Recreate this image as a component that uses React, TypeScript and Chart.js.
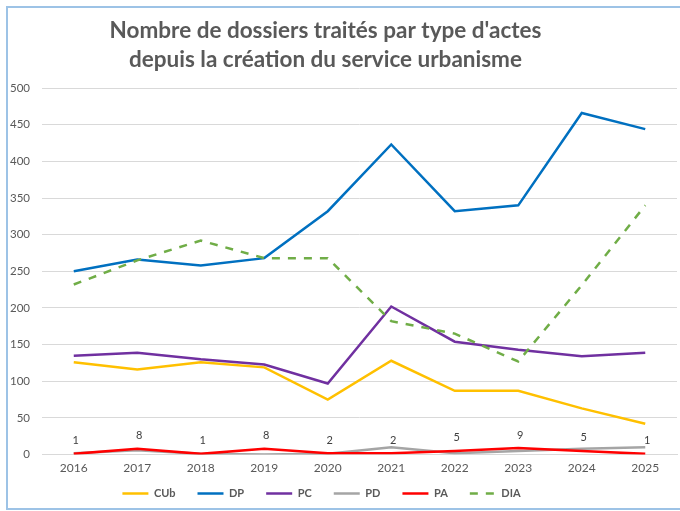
import React, { useEffect, useRef } from "react";
import { Chart, registerables } from "chart.js";

Chart.register(...registerables);

const years = ["2016", "2017", "2018", "2019", "2020", "2021", "2022", "2023", "2024", "2025"];
const cub = [126, 116, 126, 119, 75, 128, 87, 87, 63, 42];
const dp = [250, 266, 258, 268, 332, 423, 332, 340, 466, 444];
const pc = [135, 139, 130, 123, 97, 202, 154, 143, 134, 139];
const pd = [2, 6, 1, 0, 1, 10, 2, 5, 8, 10];
const pa = [1, 8, 1, 8, 2, 2, 5, 9, 5, 1];
const dia = [232, 265, 292, 268, 268, 182, 165, 127, 231, 340];
const titleLines = ["Nombre de dossiers traités par type d'actes", "depuis la création du service urbanisme"];

const FONT = "Lato, 'Open Sans', sans-serif";

const shiftPlugin = {
  id: "shiftBlocks",
  afterLayout(chart: any) {
    const t = chart.titleBlock;
    if (t) {
      t.left -= 12;
      t.right -= 12;
    }
    const l = chart.legend;
    if (l) {
      l.left -= 16;
      l.right -= 16;
      l.top -= 15;
    }
  },
};

const labelPlugin = {
  id: "paLabels",
  afterDatasetsDraw(chart: any) {
    const idx = 4;
    const meta = chart.getDatasetMeta(idx);
    const ctx = chart.ctx;
    ctx.save();
    ctx.font = `11px ${FONT}`;
    ctx.fillStyle = "#404040";
    ctx.textAlign = "center";
    ctx.textBaseline = "middle";
    meta.data.forEach((pt: any, i: number) => {
      ctx.fillText(String(pa[i]), pt.x + 2, pt.y - 13);
    });
    ctx.restore();
  },
};

export default function App() {
  const ref = useRef<HTMLCanvasElement | null>(null);
  useEffect(() => {
    if (!ref.current) return;
    const mk = (label: string, data: number[], color: string, order: number, dash?: number[]) => ({
      label,
      data,
      borderColor: color,
      backgroundColor: color,
      borderWidth: 2.5,
      borderDash: dash || [],
      pointRadius: 0,
      tension: 0,
      fill: false,
      order,
    });
    const baseGen = (Chart as any).defaults.plugins.legend.labels.generateLabels;
    const chart = new Chart(ref.current, {
      type: "line",
      data: {
        labels: years,
        datasets: [
          mk("CUb", cub, "#ffc000", 6),
          mk("DP", dp, "#0070c0", 5),
          mk("PC", pc, "#7030a0", 4),
          mk("PD", pd, "#a5a5a5", 3),
          mk("PA", pa, "#ff0000", 2),
          mk("DIA", dia, "#70ad47", 1, [8, 8]),
        ],
      },
      options: {
        animation: false,
        responsive: false,
        maintainAspectRatio: false,
        layout: { padding: { left: -2, right: 3, top: 0, bottom: 2 } },
        plugins: {
          title: {
            display: true,
            text: titleLines,
            color: "#595959",
            font: { family: FONT, size: 22.5, weight: "bold", lineHeight: 1.29 },
            padding: { top: 16.5, bottom: 13.5 },
          },
          legend: {
            position: "bottom",
            maxHeight: 28,
            labels: {
              usePointStyle: true,
              pointStyle: "line",
              pointStyleWidth: 26,
              boxWidth: 26,
              color: "#595959",
              font: { family: FONT, size: 11, weight: "bold" },
              padding: 22,
              sort: (a: any, b: any) => a.datasetIndex - b.datasetIndex,
              generateLabels: (c: any) =>
                baseGen(c).map((it: any) => ({
                  ...it,
                  lineDash: c.data.datasets[it.datasetIndex].borderDash,
                  lineWidth: 2.5,
                })),
            },
          },
          tooltip: { enabled: false },
        },
        scales: {
          x: {
            offset: true,
            grid: { display: false, drawTicks: false },
            border: { display: true, color: "#d9d9d9" },
            ticks: { color: "#595959", font: { family: FONT, size: 12 }, padding: 6, maxRotation: 0 },
          },
          y: {
            min: 0,
            max: 500,
            grid: { color: "#d9d9d9", drawTicks: false },
            border: { display: false },
            ticks: { stepSize: 50, color: "#595959", font: { family: FONT, size: 11.5 }, padding: 12 },
          },
        },
      },
      plugins: [shiftPlugin, labelPlugin],
    });
    return () => chart.destroy();
  }, []);
  return (
    <div style={{ position: "fixed", left: 0, top: 0, width: 680, height: 511, background: "#fff", overflow: "hidden" }}>
      <canvas ref={ref} width={680} height={511} style={{ display: "block", width: 680, height: 511 }} />
      <div
        style={{
          position: "absolute",
          left: 6,
          top: 6,
          width: 700,
          height: 500,
          borderLeft: "2px solid #9dc3e6",
          borderTop: "2px solid #9dc3e6",
          borderBottom: "2px solid #9dc3e6",
          pointerEvents: "none",
        }}
      />
    </div>
  );
}
